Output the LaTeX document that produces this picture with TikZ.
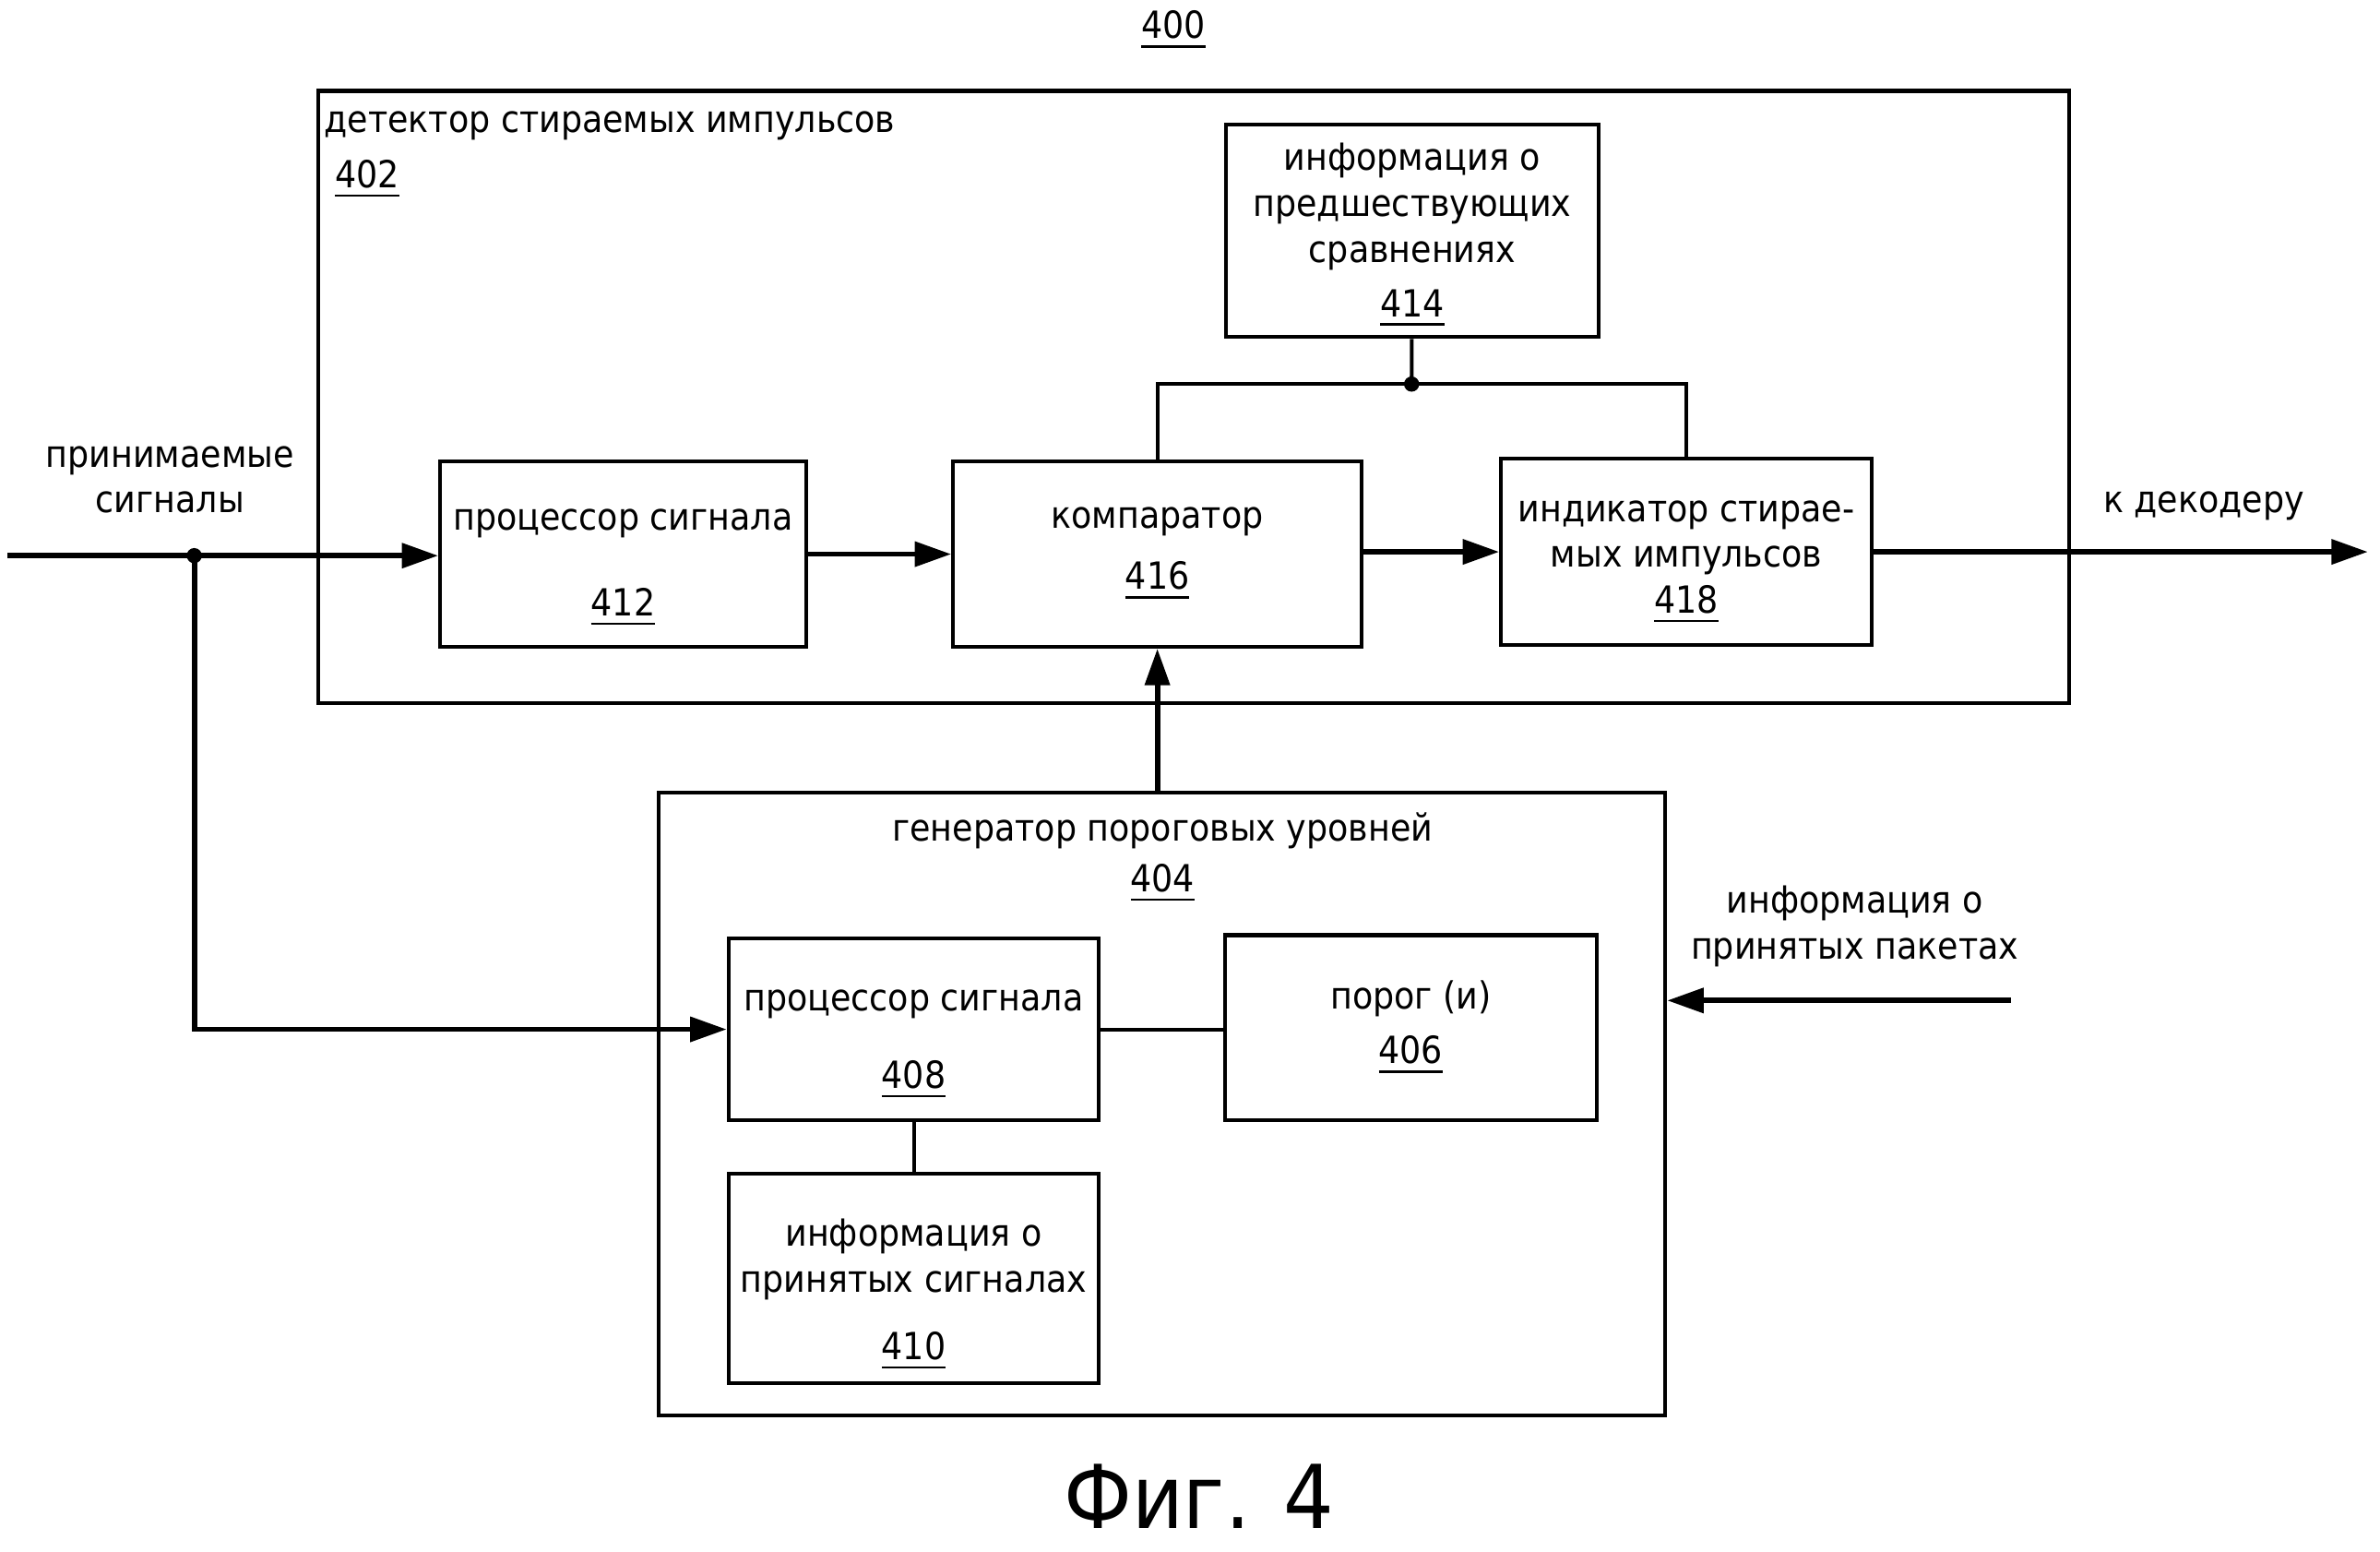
\documentclass[tikz,border=0pt]{standalone}
\usepackage{fontspec}
\setmainfont{DejaVu Sans Condensed}
\usetikzlibrary{arrows.meta}
\begin{document}
\begin{tikzpicture}[x=0.01cm,y=-0.01cm,
    blk/.style={draw,line width=0.7pt,inner sep=0pt,align=center,font=\fontsize{7}{8.6}\selectfont},
    lbl/.style={align=center,inner sep=0pt,font=\fontsize{7}{8.6}\selectfont},
    sig/.style={line width=1pt,-{Triangle[length=0.24cm,width=0.16cm]}},
    wire/.style={line width=0.7pt}]
\useasboundingbox (0,0) rectangle (1568,1022);
% header and containers
\node[lbl] (fig) at (773,20) {\underline{400}};
\node[blk,minimum width=11.53cm,minimum height=4.03cm] (det) at (786.5,261.5) {};
\node[lbl,anchor=west] (dettitle) at (213,83) {детектор стираемых импульсов};
\node[lbl,anchor=west] (detnum) at (220,118) {\underline{402}};
\node[blk,minimum width=6.63cm,minimum height=4.10cm] (gen) at (765.5,727) {};
\node[lbl] (gentitle) at (766,565) {генератор пороговых уровней\\[0.8pt]\underline{404}};
% blocks
\node[blk,minimum width=2.45cm,minimum height=1.40cm,
  label={[lbl,yshift=-0.03cm]center:информация о\\предшествующих\\сравнениях\\[1.6pt]\underline{414}}] (prev) at (930.5,152) {};
\node[blk,minimum width=2.41cm,minimum height=1.22cm,
  label={[lbl,yshift=-0.09cm]center:процессор сигнала\\[7.6pt]\underline{412}}] (proc) at (410.5,365) {};
\node[blk,minimum width=2.69cm,minimum height=1.22cm] (cmp) at (762.5,365) {компаратор\\[2.8pt]\underline{416}};
\node[blk,minimum width=2.44cm,minimum height=1.23cm,
  label={[lbl,yshift=-0.07cm]center:индикатор стирае-\\мых импульсов\\\underline{418}}] (ind) at (1111,363.5) {};
\node[blk,minimum width=2.44cm,minimum height=1.20cm,
  label={[lbl,yshift=-0.10cm]center:процессор сигнала\\[6pt]\underline{408}}] (sproc) at (602,678) {};
\node[blk,minimum width=2.45cm,minimum height=1.22cm] (thr) at (929.5,677) {порог (и)\\[1.6pt]\underline{406}};
\node[blk,minimum width=2.44cm,minimum height=1.38cm,
  label={[lbl,yshift=-0.11cm]center:информация о\\принятых сигналах\\[4pt]\underline{410}}] (rinfo) at (602,842) {};
% outside labels
\node[lbl] (inlbl) at (112,316) {принимаемые\\сигналы};
\node[lbl] (outlbl) at (1452,333) {к декодеру};
\node[lbl] (pklbl) at (1222,610) {информация о\\принятых пакетах};
\node[font=\fontsize{16.5}{20}\selectfont,inner sep=0pt,anchor=base] (caption) at (790,1007) {Фиг. 4};
% connectors
\coordinate (in) at (5,366);
\coordinate (out) at (1560,363.5);
\coordinate (pk) at (1325,659);
\fill (128,366) circle (0.05cm) coordinate (split);
\fill (930,253) circle (0.05cm) coordinate (jn);
\draw[sig] (in) -- (proc.west |- in);
\draw[sig] (proc) -- (cmp);
\draw[sig] (cmp.east |- ind) -- (ind);
\draw[sig] (ind) -- (out);
\draw[sig] (split) |- (sproc.west);
\draw[sig] (cmp.south |- gen.north) -- (cmp.south);
\draw[sig] (pk) -- (pk -| gen.east);
\draw[wire] (prev) -- (jn);
\draw[wire] (cmp.north) |- (jn) -| (ind.north);
\draw[wire] (sproc.east) -- (sproc.east -| thr.west);
\draw[wire] (sproc) -- (rinfo);
\end{tikzpicture}
\end{document}
